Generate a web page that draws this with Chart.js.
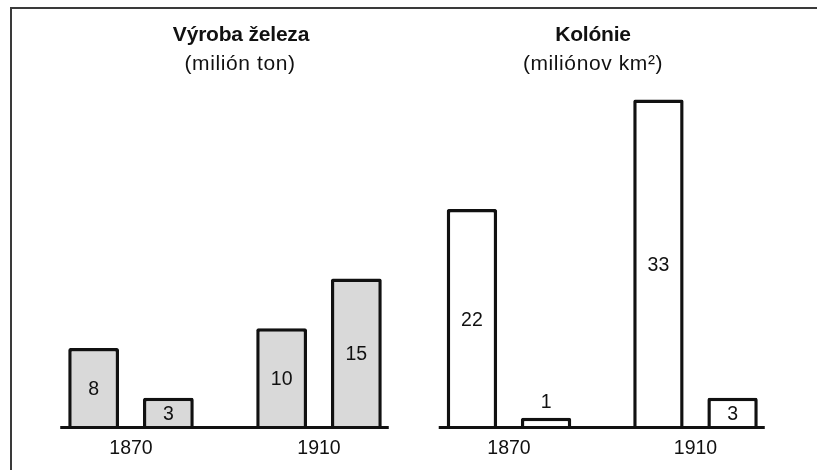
<!DOCTYPE html>
<html>
<head>
<meta charset="utf-8">
<script src="https://cdn.jsdelivr.net/npm/chart.js@4/dist/chart.umd.min.js"></script>
<style>
  html, body { margin: 0; padding: 0; background: #fff; }
  #page { position: relative; width: 817px; height: 470px; overflow: hidden; font-family: "Liberation Sans", Arial, sans-serif; color: #111; }
  #frame { position: absolute; left: 10px; top: 7px; width: 820px; height: 480px; border-top: 2px solid #3a3a3a; border-left: 2px solid #3a3a3a; }
  canvas { position: absolute; top: 0; }
  .title { position: absolute; width: 300px; text-align: center; line-height: 20px; white-space: nowrap; }
  .title b { font-size: 21px; letter-spacing: -0.2px; }
  .sub { font-size: 21px; letter-spacing: 0.6px; }
</style>
</head>
<body>
<div id="page">
  <div id="frame"></div>
  <canvas id="ironChart" width="420" height="470" style="left:0;width:420px;height:470px"></canvas>
  <canvas id="colonyChart" width="417" height="470" style="left:400px;width:417px;height:470px"></canvas>
  <div class="title" style="left:91px;top:24px"><b>Výroba železa</b></div>
  <div class="title sub" style="left:90px;top:53px">(milión ton)</div>
  <div class="title" style="left:443px;top:24px"><b>Kolónie</b></div>
  <div class="title sub" style="left:443px;top:53px">(miliónov km²)</div>
</div>
<script>
// --- data ---
const years = ['1870', '1910'];
const ironBritain = [8, 10];
const ironGermany = [3, 15];
const colonyBritain = [22, 33];
const colonyGermany = [1, 3];

// hodnoty do stĺpcov + základná čiara
const barLabels = {
  id: 'barLabels',
  afterDatasetsDraw(chart) {
    const ctx = chart.ctx;
    ctx.save();
    ctx.font = '19.5px "Liberation Sans", Arial, sans-serif';
    ctx.fillStyle = '#111';
    ctx.textAlign = 'center';
    ctx.textBaseline = 'middle';
    let minX = Infinity, maxX = -Infinity;
    chart.data.datasets.forEach((ds, i) => {
      chart.getDatasetMeta(i).data.forEach((bar, j) => {
        const h = bar.base - bar.y;
        const y = h > 24 ? (bar.y + bar.base) / 2 + 2 : bar.y - 15;
        ctx.fillText(String(ds.data[j]), bar.x, y);
        minX = Math.min(minX, bar.x - bar.width / 2);
        maxX = Math.max(maxX, bar.x + bar.width / 2);
      });
    });
    const base = chart.scales.y.getPixelForValue(0);
    ctx.strokeStyle = '#111';
    ctx.lineWidth = 3;
    ctx.beginPath();
    ctx.moveTo(minX - 8, base);
    ctx.lineTo(maxX + 7, base);
    ctx.stroke();
    ctx.restore();
  }
};

function makeChart(id, a, b, fill, padLeft, padRight) {
  const barStyle = {
    backgroundColor: fill,
    borderColor: '#111',
    borderWidth: 3.5,
    borderRadius: 2,
    borderSkipped: 'bottom',
    categoryPercentage: 0.795,
    barPercentage: 0.68
  };
  return new Chart(document.getElementById(id), {
    type: 'bar',
    data: {
      labels: years,
      datasets: [
        Object.assign({ label: 'Veľká Británia', data: a }, barStyle),
        Object.assign({ label: 'Nemecko', data: b }, barStyle)
      ]
    },
    options: {
      responsive: false,
      animation: false,
      layout: { padding: { top: 30, bottom: 1, left: padLeft, right: padRight } },
      plugins: { legend: { display: false }, tooltip: { enabled: false } },
      scales: {
        x: {
          grid: { display: false, drawTicks: false },
          border: { display: false },
          ticks: { color: '#111', padding: 9, font: { size: 19.5, family: '"Liberation Sans", Arial, sans-serif' } }
        },
        y: { display: false, min: 0, max: 40 }
      }
    },
    plugins: [barLabels]
  });
}

makeChart('ironChart', ironBritain, ironGermany, '#d9d9d9', 37, 7);
makeChart('colonyChart', colonyBritain, colonyGermany, '#ffffff', 15.75, 28.25);
</script>
</body>
</html>
